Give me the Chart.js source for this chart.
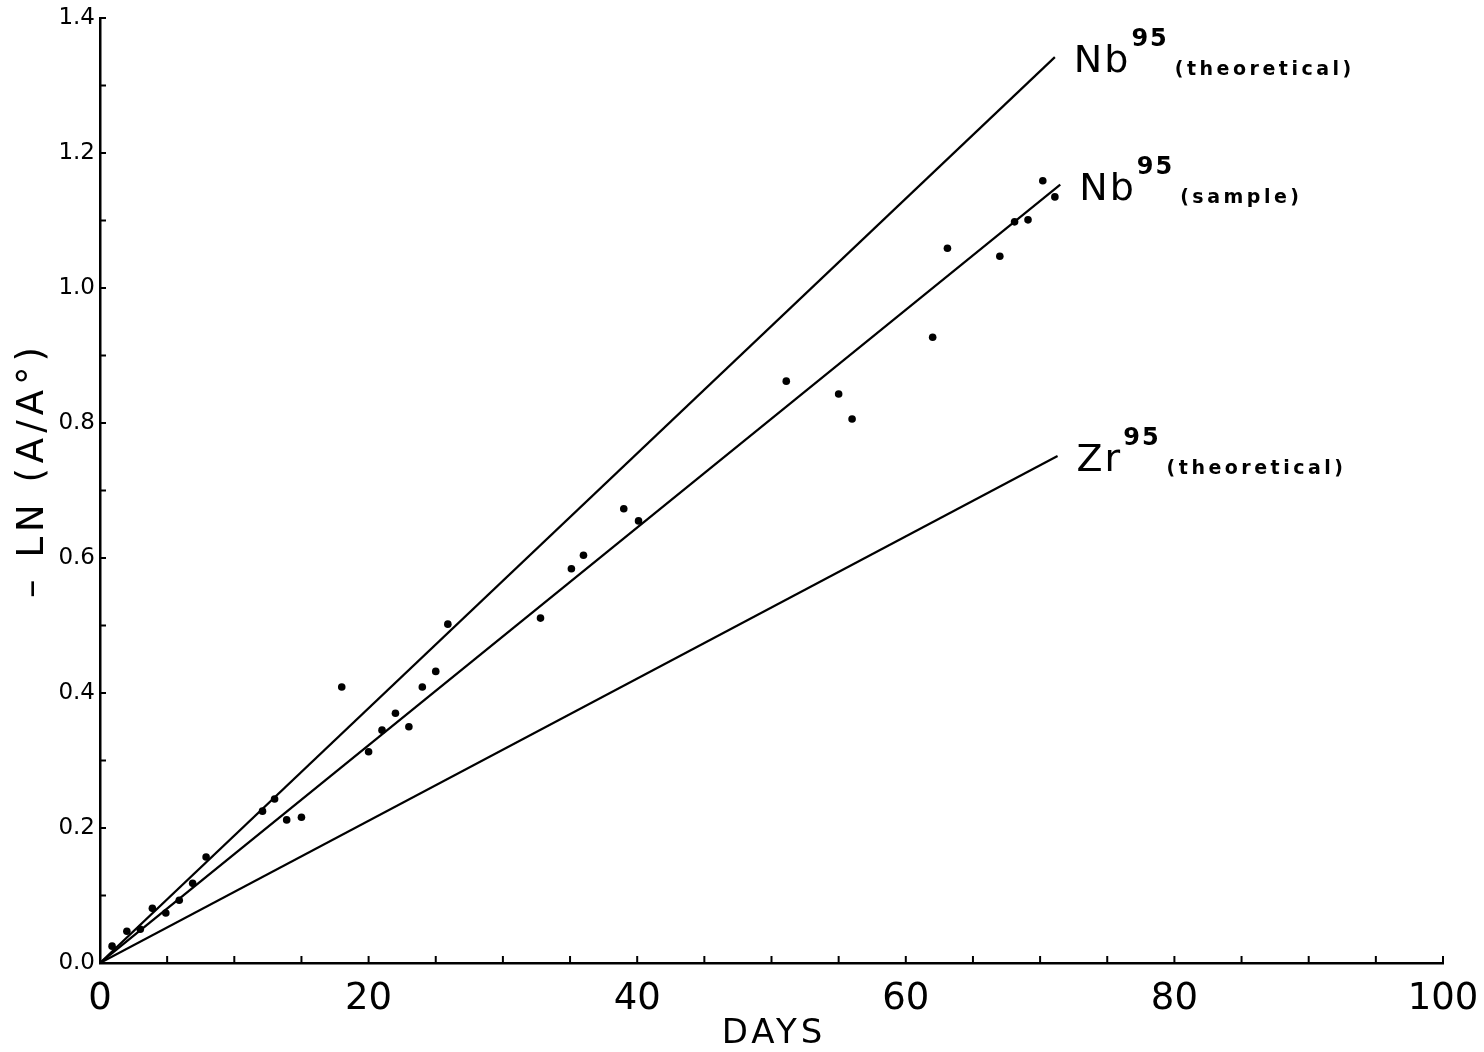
<!DOCTYPE html>
<html>
<head>
<meta charset="utf-8">
<script src="https://cdn.jsdelivr.net/npm/chart.js@4.4.0/dist/chart.umd.min.js"></script>
<style>
  html, body { margin: 0; padding: 0; background: #fff; }
  #wrap { width: 1484px; height: 1052px; }
</style>
</head>
<body>
<div id="wrap"><canvas id="decay" width="1484" height="1052"></canvas></div>
<script>
// measured sample points (days, -ln(A/A0))
const sampleDays = [0.9, 2.0, 3.0, 3.9, 4.9, 5.9, 6.9, 7.9, 12.1, 13.0, 13.9, 15.0, 18.0, 20.0, 21.0, 22.0, 23.0, 24.0, 25.0, 25.9,
  32.8, 35.1, 36.0, 39.0, 40.1, 51.1, 55.0, 56.0, 62.0, 63.1, 67.0, 68.1, 69.1, 70.2, 71.1];
const sampleLn = [0.025, 0.047, 0.050, 0.081, 0.074, 0.093, 0.118, 0.157, 0.225, 0.243, 0.212, 0.216, 0.409, 0.313, 0.345, 0.370, 0.350, 0.409, 0.432, 0.502,
  0.511, 0.584, 0.604, 0.673, 0.655, 0.862, 0.843, 0.806, 0.927, 1.059, 1.047, 1.098, 1.101, 1.159, 1.135];

// straight lines from the origin
const lineNames = ["Nb", "Nb", "Zr"];
const lineNotes = ["(theoretical)", "(sample)", "(theoretical)"];
const lineEndDays = [71.1, 71.5, 71.3];
const lineEndLn = [1.342, 1.153, 0.751];

const xTicks = [0, 20, 40, 60, 80, 100];
const yTicks = [0.0, 0.2, 0.4, 0.6, 0.8, 1.0, 1.2, 1.4];

const FONT = "'DejaVu Sans', sans-serif";

// inward minor ticks, axis titles, line labels
const decorPlugin = {
  id: "decor",
  afterDraw: (chart) => {
    const ctx = chart.ctx;
    const xs = chart.scales.x, ys = chart.scales.y;
    const area = chart.chartArea;
    ctx.save();
    ctx.strokeStyle = "#000";
    ctx.lineWidth = 2;
    for (let d = 5; d <= 100; d += 5) {
      const px = xs.getPixelForValue(d);
      ctx.beginPath();
      ctx.moveTo(px, area.bottom);
      ctx.lineTo(px, area.bottom - 7);
      ctx.stroke();
    }
    for (let i = 1; i <= 14; i++) {
      const py = ys.getPixelForValue(i / 10);
      ctx.beginPath();
      ctx.moveTo(area.left, py);
      ctx.lineTo(area.left + 6, py);
      ctx.stroke();
    }

    ctx.fillStyle = "#000";
    // axis titles
    ctx.textAlign = "center";
    ctx.textBaseline = "middle";
    ctx.letterSpacing = "4px";
    ctx.font = "34px " + FONT;
    ctx.fillText("DAYS", 774, 1034);
    ctx.save();
    ctx.translate(33, 470);
    ctx.rotate(-Math.PI / 2);
    ctx.letterSpacing = "5px";
    ctx.font = "37px " + FONT;
    ctx.fillText("\u2013 LN (A/A\u00B0)", 0, 0);
    ctx.restore();

    // line labels
    ctx.textBaseline = "alphabetic";
    ctx.textAlign = "left";
    lineNames.forEach((name, i) => {
      const ex = xs.getPixelForValue(lineEndDays[i]);
      const ey = ys.getPixelForValue(lineEndLn[i]);
      let x = ex + 19;
      const base = ey + 15;
      ctx.letterSpacing = "2px";
      ctx.font = "38px " + FONT;
      ctx.fillText(name, x, base);
      x += ctx.measureText(name).width + 1;
      ctx.letterSpacing = "2px";
      ctx.font = "bold 24px " + FONT;
      ctx.fillText("95", x, base - 26);
      x += ctx.measureText("95").width + 6;
      ctx.letterSpacing = "3.5px";
      ctx.font = "bold 19px " + FONT;
      ctx.fillText(lineNotes[i], x, base + 3);
    });
    ctx.restore();
  }
};

const lineSets = lineNames.map((name, i) => ({
  type: "line",
  label: name + "95 " + lineNotes[i],
  data: [{ x: 0, y: 0 }, { x: lineEndDays[i], y: lineEndLn[i] }],
  borderColor: "#000",
  borderWidth: 2.2,
  pointRadius: 0,
  fill: false,
  tension: 0
}));

new Chart(document.getElementById("decay").getContext("2d"), {
  type: "scatter",
  data: {
    datasets: [
      {
        label: "sample",
        data: sampleDays.map((d, i) => ({ x: d, y: sampleLn[i] })),
        backgroundColor: "#000",
        borderColor: "#000",
        pointRadius: 3.8,
        pointBorderWidth: 0
      },
      ...lineSets
    ]
  },
  options: {
    responsive: false,
    animation: false,
    layout: { padding: { top: 18, right: 41, left: 0, bottom: 0 } },
    plugins: {
      legend: { display: false },
      tooltip: { enabled: false }
    },
    scales: {
      x: {
        type: "linear",
        min: 0,
        max: 100,
        afterFit: (s) => { s.height = 89; s.paddingLeft = 0; s.paddingRight = 0; },
        afterBuildTicks: (s) => { s.ticks = xTicks.map(v => ({ value: v })); },
        grid: { display: false, drawTicks: false },
        border: { display: true, color: "#000", width: 2.5 },
        ticks: {
          color: "#000",
          padding: 14,
          font: { family: FONT, size: 37 },
          callback: (v) => String(v)
        },
        title: { display: false }
      },
      y: {
        type: "linear",
        min: 0,
        max: 1.4,
        afterFit: (s) => { s.width = 100; s.paddingTop = 0; s.paddingBottom = 0; },
        afterBuildTicks: (s) => { s.ticks = yTicks.map(v => ({ value: v })); },
        grid: { display: false, drawTicks: false },
        border: { display: true, color: "#000", width: 2.5 },
        ticks: {
          color: "#000",
          padding: 5,
          font: { family: FONT, size: 23 },
          callback: (v) => Number(v).toFixed(1)
        },
        title: { display: false }
      }
    }
  },
  plugins: [decorPlugin]
});
</script>
</body>
</html>
